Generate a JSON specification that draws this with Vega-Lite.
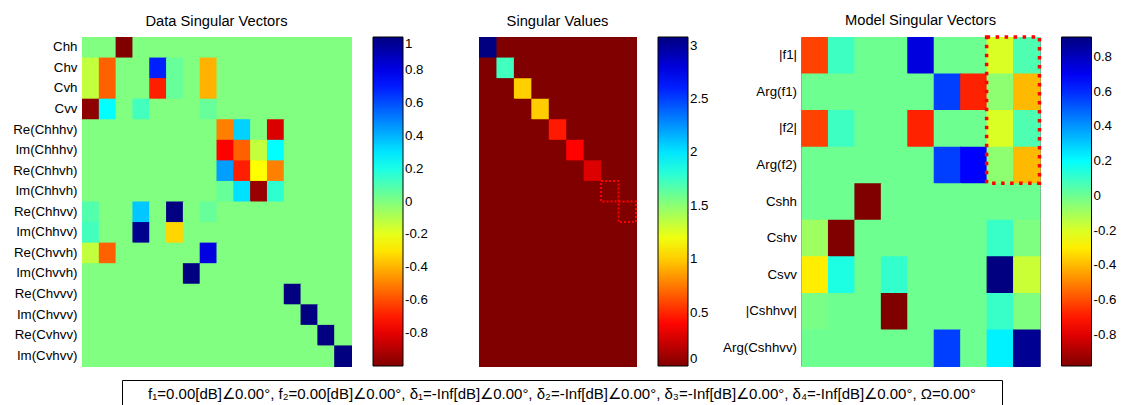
{
  "$schema": "https://vega.github.io/schema/vega-lite/v6.json",
  "background": "white",
  "padding": {"left": 12, "top": 12, "right": 0, "bottom": 0},
  "config": {
    "view": {"stroke": "black", "strokeWidth": 1},
    "font": "Liberation Sans",
    "axis": {"labelFont": "Liberation Sans", "labelFontSize": 13.3, "labelColor": "black", "ticks": false, "domain": false, "labelPadding": 5, "title": null},
    "legend": {"labelFont": "Liberation Sans", "labelFontSize": 13.3, "labelColor": "black", "labelOffset": 5, "offset": 22, "padding": 0, "gradientLength": 329, "gradientThickness": 30, "gradientStrokeColor": "black", "gradientStrokeWidth": 1, "direction": "vertical", "orient": "right"},
    "title": {"font": "Liberation Sans", "fontSize": 14.7, "fontWeight": "normal", "color": "black", "offset": 8, "frame": "group", "anchor": "middle"}
  },
  "datasets": {
    "d1": [
      {"r":"Chh","c":0,"v":0},{"r":"Chh","c":1,"v":0},{"r":"Chh","c":2,"v":-1},{"r":"Chh","c":3,"v":0},{"r":"Chh","c":4,"v":0},{"r":"Chh","c":5,"v":0},{"r":"Chh","c":6,"v":0},{"r":"Chh","c":7,"v":0},{"r":"Chh","c":8,"v":0},{"r":"Chh","c":9,"v":0},{"r":"Chh","c":10,"v":0},{"r":"Chh","c":11,"v":0},{"r":"Chh","c":12,"v":0},{"r":"Chh","c":13,"v":0},{"r":"Chh","c":14,"v":0},{"r":"Chh","c":15,"v":0},
      {"r":"Chv","c":0,"v":-0.13},{"r":"Chv","c":1,"v":-0.56},{"r":"Chv","c":2,"v":0},{"r":"Chv","c":3,"v":0},{"r":"Chv","c":4,"v":0.69},{"r":"Chv","c":5,"v":0.05},{"r":"Chv","c":6,"v":0},{"r":"Chv","c":7,"v":-0.4},{"r":"Chv","c":8,"v":0},{"r":"Chv","c":9,"v":0},{"r":"Chv","c":10,"v":0},{"r":"Chv","c":11,"v":0},{"r":"Chv","c":12,"v":0},{"r":"Chv","c":13,"v":0},{"r":"Chv","c":14,"v":0},{"r":"Chv","c":15,"v":0},
      {"r":"Cvh","c":0,"v":-0.13},{"r":"Cvh","c":1,"v":-0.56},{"r":"Cvh","c":2,"v":0},{"r":"Cvh","c":3,"v":0},{"r":"Cvh","c":4,"v":-0.69},{"r":"Cvh","c":5,"v":0.05},{"r":"Cvh","c":6,"v":0},{"r":"Cvh","c":7,"v":-0.4},{"r":"Cvh","c":8,"v":0},{"r":"Cvh","c":9,"v":0},{"r":"Cvh","c":10,"v":0},{"r":"Cvh","c":11,"v":0},{"r":"Cvh","c":12,"v":0},{"r":"Cvh","c":13,"v":0},{"r":"Cvh","c":14,"v":0},{"r":"Cvh","c":15,"v":0},
      {"r":"Cvv","c":0,"v":-0.97},{"r":"Cvv","c":1,"v":0.25},{"r":"Cvv","c":2,"v":0},{"r":"Cvv","c":3,"v":0.12},{"r":"Cvv","c":4,"v":0},{"r":"Cvv","c":5,"v":0},{"r":"Cvv","c":6,"v":0},{"r":"Cvv","c":7,"v":0.05},{"r":"Cvv","c":8,"v":0},{"r":"Cvv","c":9,"v":0},{"r":"Cvv","c":10,"v":0},{"r":"Cvv","c":11,"v":0},{"r":"Cvv","c":12,"v":0},{"r":"Cvv","c":13,"v":0},{"r":"Cvv","c":14,"v":0},{"r":"Cvv","c":15,"v":0},
      {"r":"Re(Chhhv)","c":0,"v":0},{"r":"Re(Chhhv)","c":1,"v":0},{"r":"Re(Chhhv)","c":2,"v":0},{"r":"Re(Chhhv)","c":3,"v":0},{"r":"Re(Chhhv)","c":4,"v":0},{"r":"Re(Chhhv)","c":5,"v":0},{"r":"Re(Chhhv)","c":6,"v":0},{"r":"Re(Chhhv)","c":7,"v":0},{"r":"Re(Chhhv)","c":8,"v":-0.5},{"r":"Re(Chhhv)","c":9,"v":0.34},{"r":"Re(Chhhv)","c":10,"v":0},{"r":"Re(Chhhv)","c":11,"v":-0.82},{"r":"Re(Chhhv)","c":12,"v":0},{"r":"Re(Chhhv)","c":13,"v":0},{"r":"Re(Chhhv)","c":14,"v":0},{"r":"Re(Chhhv)","c":15,"v":0},
      {"r":"Im(Chhhv)","c":0,"v":0},{"r":"Im(Chhhv)","c":1,"v":0},{"r":"Im(Chhhv)","c":2,"v":0},{"r":"Im(Chhhv)","c":3,"v":0},{"r":"Im(Chhhv)","c":4,"v":0},{"r":"Im(Chhhv)","c":5,"v":0},{"r":"Im(Chhhv)","c":6,"v":0},{"r":"Im(Chhhv)","c":7,"v":0},{"r":"Im(Chhhv)","c":8,"v":-0.75},{"r":"Im(Chhhv)","c":9,"v":-0.56},{"r":"Im(Chhhv)","c":10,"v":-0.13},{"r":"Im(Chhhv)","c":11,"v":0.25},{"r":"Im(Chhhv)","c":12,"v":0},{"r":"Im(Chhhv)","c":13,"v":0},{"r":"Im(Chhhv)","c":14,"v":0},{"r":"Im(Chhhv)","c":15,"v":0},
      {"r":"Re(Chhvh)","c":0,"v":0},{"r":"Re(Chhvh)","c":1,"v":0},{"r":"Re(Chhvh)","c":2,"v":0},{"r":"Re(Chhvh)","c":3,"v":0},{"r":"Re(Chhvh)","c":4,"v":0},{"r":"Re(Chhvh)","c":5,"v":0},{"r":"Re(Chhvh)","c":6,"v":0},{"r":"Re(Chhvh)","c":7,"v":0},{"r":"Re(Chhvh)","c":8,"v":0.44},{"r":"Re(Chhvh)","c":9,"v":-0.69},{"r":"Re(Chhvh)","c":10,"v":-0.25},{"r":"Re(Chhvh)","c":11,"v":-0.5},{"r":"Re(Chhvh)","c":12,"v":0},{"r":"Re(Chhvh)","c":13,"v":0},{"r":"Re(Chhvh)","c":14,"v":0},{"r":"Re(Chhvh)","c":15,"v":0},
      {"r":"Im(Chhvh)","c":0,"v":0},{"r":"Im(Chhvh)","c":1,"v":0},{"r":"Im(Chhvh)","c":2,"v":0},{"r":"Im(Chhvh)","c":3,"v":0},{"r":"Im(Chhvh)","c":4,"v":0},{"r":"Im(Chhvh)","c":5,"v":0},{"r":"Im(Chhvh)","c":6,"v":0},{"r":"Im(Chhvh)","c":7,"v":0},{"r":"Im(Chhvh)","c":8,"v":0.05},{"r":"Im(Chhvh)","c":9,"v":0.31},{"r":"Im(Chhvh)","c":10,"v":-0.95},{"r":"Im(Chhvh)","c":11,"v":0.16},{"r":"Im(Chhvh)","c":12,"v":0},{"r":"Im(Chhvh)","c":13,"v":0},{"r":"Im(Chhvh)","c":14,"v":0},{"r":"Im(Chhvh)","c":15,"v":0},
      {"r":"Re(Chhvv)","c":0,"v":0.09},{"r":"Re(Chhvv)","c":1,"v":0},{"r":"Re(Chhvv)","c":2,"v":0},{"r":"Re(Chhvv)","c":3,"v":0.36},{"r":"Re(Chhvv)","c":4,"v":0},{"r":"Re(Chhvv)","c":5,"v":1},{"r":"Re(Chhvv)","c":6,"v":0},{"r":"Re(Chhvv)","c":7,"v":0.05},{"r":"Re(Chhvv)","c":8,"v":0},{"r":"Re(Chhvv)","c":9,"v":0},{"r":"Re(Chhvv)","c":10,"v":0},{"r":"Re(Chhvv)","c":11,"v":0},{"r":"Re(Chhvv)","c":12,"v":0},{"r":"Re(Chhvv)","c":13,"v":0},{"r":"Re(Chhvv)","c":14,"v":0},{"r":"Re(Chhvv)","c":15,"v":0},
      {"r":"Im(Chhvv)","c":0,"v":0.12},{"r":"Im(Chhvv)","c":1,"v":0},{"r":"Im(Chhvv)","c":2,"v":0},{"r":"Im(Chhvv)","c":3,"v":0.97},{"r":"Im(Chhvv)","c":4,"v":0},{"r":"Im(Chhvv)","c":5,"v":-0.33},{"r":"Im(Chhvv)","c":6,"v":0},{"r":"Im(Chhvv)","c":7,"v":0},{"r":"Im(Chhvv)","c":8,"v":0},{"r":"Im(Chhvv)","c":9,"v":0},{"r":"Im(Chhvv)","c":10,"v":0},{"r":"Im(Chhvv)","c":11,"v":0},{"r":"Im(Chhvv)","c":12,"v":0},{"r":"Im(Chhvv)","c":13,"v":0},{"r":"Im(Chhvv)","c":14,"v":0},{"r":"Im(Chhvv)","c":15,"v":0},
      {"r":"Re(Chvvh)","c":0,"v":-0.13},{"r":"Re(Chvvh)","c":1,"v":-0.56},{"r":"Re(Chvvh)","c":2,"v":0},{"r":"Re(Chvvh)","c":3,"v":0},{"r":"Re(Chvvh)","c":4,"v":0},{"r":"Re(Chvvh)","c":5,"v":0},{"r":"Re(Chvvh)","c":6,"v":0},{"r":"Re(Chvvh)","c":7,"v":0.81},{"r":"Re(Chvvh)","c":8,"v":0},{"r":"Re(Chvvh)","c":9,"v":0},{"r":"Re(Chvvh)","c":10,"v":0},{"r":"Re(Chvvh)","c":11,"v":0},{"r":"Re(Chvvh)","c":12,"v":0},{"r":"Re(Chvvh)","c":13,"v":0},{"r":"Re(Chvvh)","c":14,"v":0},{"r":"Re(Chvvh)","c":15,"v":0},
      {"r":"Im(Chvvh)","c":0,"v":0},{"r":"Im(Chvvh)","c":1,"v":0},{"r":"Im(Chvvh)","c":2,"v":0},{"r":"Im(Chvvh)","c":3,"v":0},{"r":"Im(Chvvh)","c":4,"v":0},{"r":"Im(Chvvh)","c":5,"v":0},{"r":"Im(Chvvh)","c":6,"v":1},{"r":"Im(Chvvh)","c":7,"v":0},{"r":"Im(Chvvh)","c":8,"v":0},{"r":"Im(Chvvh)","c":9,"v":0},{"r":"Im(Chvvh)","c":10,"v":0},{"r":"Im(Chvvh)","c":11,"v":0},{"r":"Im(Chvvh)","c":12,"v":0},{"r":"Im(Chvvh)","c":13,"v":0},{"r":"Im(Chvvh)","c":14,"v":0},{"r":"Im(Chvvh)","c":15,"v":0},
      {"r":"Re(Chvvv)","c":0,"v":0},{"r":"Re(Chvvv)","c":1,"v":0},{"r":"Re(Chvvv)","c":2,"v":0},{"r":"Re(Chvvv)","c":3,"v":0},{"r":"Re(Chvvv)","c":4,"v":0},{"r":"Re(Chvvv)","c":5,"v":0},{"r":"Re(Chvvv)","c":6,"v":0},{"r":"Re(Chvvv)","c":7,"v":0},{"r":"Re(Chvvv)","c":8,"v":0},{"r":"Re(Chvvv)","c":9,"v":0},{"r":"Re(Chvvv)","c":10,"v":0},{"r":"Re(Chvvv)","c":11,"v":0},{"r":"Re(Chvvv)","c":12,"v":1},{"r":"Re(Chvvv)","c":13,"v":0},{"r":"Re(Chvvv)","c":14,"v":0},{"r":"Re(Chvvv)","c":15,"v":0},
      {"r":"Im(Chvvv)","c":0,"v":0},{"r":"Im(Chvvv)","c":1,"v":0},{"r":"Im(Chvvv)","c":2,"v":0},{"r":"Im(Chvvv)","c":3,"v":0},{"r":"Im(Chvvv)","c":4,"v":0},{"r":"Im(Chvvv)","c":5,"v":0},{"r":"Im(Chvvv)","c":6,"v":0},{"r":"Im(Chvvv)","c":7,"v":0},{"r":"Im(Chvvv)","c":8,"v":0},{"r":"Im(Chvvv)","c":9,"v":0},{"r":"Im(Chvvv)","c":10,"v":0},{"r":"Im(Chvvv)","c":11,"v":0},{"r":"Im(Chvvv)","c":12,"v":0},{"r":"Im(Chvvv)","c":13,"v":1},{"r":"Im(Chvvv)","c":14,"v":0},{"r":"Im(Chvvv)","c":15,"v":0},
      {"r":"Re(Cvhvv)","c":0,"v":0},{"r":"Re(Cvhvv)","c":1,"v":0},{"r":"Re(Cvhvv)","c":2,"v":0},{"r":"Re(Cvhvv)","c":3,"v":0},{"r":"Re(Cvhvv)","c":4,"v":0},{"r":"Re(Cvhvv)","c":5,"v":0},{"r":"Re(Cvhvv)","c":6,"v":0},{"r":"Re(Cvhvv)","c":7,"v":0},{"r":"Re(Cvhvv)","c":8,"v":0},{"r":"Re(Cvhvv)","c":9,"v":0},{"r":"Re(Cvhvv)","c":10,"v":0},{"r":"Re(Cvhvv)","c":11,"v":0},{"r":"Re(Cvhvv)","c":12,"v":0},{"r":"Re(Cvhvv)","c":13,"v":0},{"r":"Re(Cvhvv)","c":14,"v":1},{"r":"Re(Cvhvv)","c":15,"v":0},
      {"r":"Im(Cvhvv)","c":0,"v":0},{"r":"Im(Cvhvv)","c":1,"v":0},{"r":"Im(Cvhvv)","c":2,"v":0},{"r":"Im(Cvhvv)","c":3,"v":0},{"r":"Im(Cvhvv)","c":4,"v":0},{"r":"Im(Cvhvv)","c":5,"v":0},{"r":"Im(Cvhvv)","c":6,"v":0},{"r":"Im(Cvhvv)","c":7,"v":0},{"r":"Im(Cvhvv)","c":8,"v":0},{"r":"Im(Cvhvv)","c":9,"v":0},{"r":"Im(Cvhvv)","c":10,"v":0},{"r":"Im(Cvhvv)","c":11,"v":0},{"r":"Im(Cvhvv)","c":12,"v":0},{"r":"Im(Cvhvv)","c":13,"v":0},{"r":"Im(Cvhvv)","c":14,"v":0},{"r":"Im(Cvhvv)","c":15,"v":1}
    ],
    "d2": [
      {"r":0,"c":0,"v":3.08},{"r":0,"c":1,"v":0},{"r":0,"c":2,"v":0},{"r":0,"c":3,"v":0},{"r":0,"c":4,"v":0},{"r":0,"c":5,"v":0},{"r":0,"c":6,"v":0},{"r":0,"c":7,"v":0},{"r":0,"c":8,"v":0},
      {"r":1,"c":0,"v":0},{"r":1,"c":1,"v":1.73},{"r":1,"c":2,"v":0},{"r":1,"c":3,"v":0},{"r":1,"c":4,"v":0},{"r":1,"c":5,"v":0},{"r":1,"c":6,"v":0},{"r":1,"c":7,"v":0},{"r":1,"c":8,"v":0},
      {"r":2,"c":0,"v":0},{"r":2,"c":1,"v":0},{"r":2,"c":2,"v":1.01},{"r":2,"c":3,"v":0},{"r":2,"c":4,"v":0},{"r":2,"c":5,"v":0},{"r":2,"c":6,"v":0},{"r":2,"c":7,"v":0},{"r":2,"c":8,"v":0},
      {"r":3,"c":0,"v":0},{"r":3,"c":1,"v":0},{"r":3,"c":2,"v":0},{"r":3,"c":3,"v":1.0},{"r":3,"c":4,"v":0},{"r":3,"c":5,"v":0},{"r":3,"c":6,"v":0},{"r":3,"c":7,"v":0},{"r":3,"c":8,"v":0},
      {"r":4,"c":0,"v":0},{"r":4,"c":1,"v":0},{"r":4,"c":2,"v":0},{"r":4,"c":3,"v":0},{"r":4,"c":4,"v":0.46},{"r":4,"c":5,"v":0},{"r":4,"c":6,"v":0},{"r":4,"c":7,"v":0},{"r":4,"c":8,"v":0},
      {"r":5,"c":0,"v":0},{"r":5,"c":1,"v":0},{"r":5,"c":2,"v":0},{"r":5,"c":3,"v":0},{"r":5,"c":4,"v":0},{"r":5,"c":5,"v":0.39},{"r":5,"c":6,"v":0},{"r":5,"c":7,"v":0},{"r":5,"c":8,"v":0},
      {"r":6,"c":0,"v":0},{"r":6,"c":1,"v":0},{"r":6,"c":2,"v":0},{"r":6,"c":3,"v":0},{"r":6,"c":4,"v":0},{"r":6,"c":5,"v":0},{"r":6,"c":6,"v":0.28},{"r":6,"c":7,"v":0},{"r":6,"c":8,"v":0},
      {"r":7,"c":0,"v":0},{"r":7,"c":1,"v":0},{"r":7,"c":2,"v":0},{"r":7,"c":3,"v":0},{"r":7,"c":4,"v":0},{"r":7,"c":5,"v":0},{"r":7,"c":6,"v":0},{"r":7,"c":7,"v":0},{"r":7,"c":8,"v":0},
      {"r":8,"c":0,"v":0},{"r":8,"c":1,"v":0},{"r":8,"c":2,"v":0},{"r":8,"c":3,"v":0},{"r":8,"c":4,"v":0},{"r":8,"c":5,"v":0},{"r":8,"c":6,"v":0},{"r":8,"c":7,"v":0},{"r":8,"c":8,"v":0},
      {"r":9,"c":0,"v":0},{"r":9,"c":1,"v":0},{"r":9,"c":2,"v":0},{"r":9,"c":3,"v":0},{"r":9,"c":4,"v":0},{"r":9,"c":5,"v":0},{"r":9,"c":6,"v":0},{"r":9,"c":7,"v":0},{"r":9,"c":8,"v":0},
      {"r":10,"c":0,"v":0},{"r":10,"c":1,"v":0},{"r":10,"c":2,"v":0},{"r":10,"c":3,"v":0},{"r":10,"c":4,"v":0},{"r":10,"c":5,"v":0},{"r":10,"c":6,"v":0},{"r":10,"c":7,"v":0},{"r":10,"c":8,"v":0},
      {"r":11,"c":0,"v":0},{"r":11,"c":1,"v":0},{"r":11,"c":2,"v":0},{"r":11,"c":3,"v":0},{"r":11,"c":4,"v":0},{"r":11,"c":5,"v":0},{"r":11,"c":6,"v":0},{"r":11,"c":7,"v":0},{"r":11,"c":8,"v":0},
      {"r":12,"c":0,"v":0},{"r":12,"c":1,"v":0},{"r":12,"c":2,"v":0},{"r":12,"c":3,"v":0},{"r":12,"c":4,"v":0},{"r":12,"c":5,"v":0},{"r":12,"c":6,"v":0},{"r":12,"c":7,"v":0},{"r":12,"c":8,"v":0},
      {"r":13,"c":0,"v":0},{"r":13,"c":1,"v":0},{"r":13,"c":2,"v":0},{"r":13,"c":3,"v":0},{"r":13,"c":4,"v":0},{"r":13,"c":5,"v":0},{"r":13,"c":6,"v":0},{"r":13,"c":7,"v":0},{"r":13,"c":8,"v":0},
      {"r":14,"c":0,"v":0},{"r":14,"c":1,"v":0},{"r":14,"c":2,"v":0},{"r":14,"c":3,"v":0},{"r":14,"c":4,"v":0},{"r":14,"c":5,"v":0},{"r":14,"c":6,"v":0},{"r":14,"c":7,"v":0},{"r":14,"c":8,"v":0},
      {"r":15,"c":0,"v":0},{"r":15,"c":1,"v":0},{"r":15,"c":2,"v":0},{"r":15,"c":3,"v":0},{"r":15,"c":4,"v":0},{"r":15,"c":5,"v":0},{"r":15,"c":6,"v":0},{"r":15,"c":7,"v":0},{"r":15,"c":8,"v":0}
    ],
    "b2": [{"r":7,"c":7},{"r":8,"c":8}],
    "d3": [
      {"r":"|f1|","c":0,"v":-0.62},{"r":"|f1|","c":1,"v":0.09},{"r":"|f1|","c":2,"v":0},{"r":"|f1|","c":3,"v":0},{"r":"|f1|","c":4,"v":0.74},{"r":"|f1|","c":5,"v":0},{"r":"|f1|","c":6,"v":0},{"r":"|f1|","c":7,"v":-0.2},{"r":"|f1|","c":8,"v":0.06},
      {"r":"Arg(f1)","c":0,"v":0},{"r":"Arg(f1)","c":1,"v":0},{"r":"Arg(f1)","c":2,"v":0},{"r":"Arg(f1)","c":3,"v":0},{"r":"Arg(f1)","c":4,"v":0},{"r":"Arg(f1)","c":5,"v":0.56},{"r":"Arg(f1)","c":6,"v":-0.68},{"r":"Arg(f1)","c":7,"v":-0.06},{"r":"Arg(f1)","c":8,"v":-0.4},
      {"r":"|f2|","c":0,"v":-0.62},{"r":"|f2|","c":1,"v":0.09},{"r":"|f2|","c":2,"v":0},{"r":"|f2|","c":3,"v":0},{"r":"|f2|","c":4,"v":-0.68},{"r":"|f2|","c":5,"v":0},{"r":"|f2|","c":6,"v":0},{"r":"|f2|","c":7,"v":-0.2},{"r":"|f2|","c":8,"v":0.06},
      {"r":"Arg(f2)","c":0,"v":0},{"r":"Arg(f2)","c":1,"v":0},{"r":"Arg(f2)","c":2,"v":0},{"r":"Arg(f2)","c":3,"v":0},{"r":"Arg(f2)","c":4,"v":0},{"r":"Arg(f2)","c":5,"v":0.56},{"r":"Arg(f2)","c":6,"v":0.68},{"r":"Arg(f2)","c":7,"v":-0.06},{"r":"Arg(f2)","c":8,"v":-0.4},
      {"r":"Cshh","c":0,"v":0},{"r":"Cshh","c":1,"v":0},{"r":"Cshh","c":2,"v":-0.98},{"r":"Cshh","c":3,"v":0},{"r":"Cshh","c":4,"v":0},{"r":"Cshh","c":5,"v":0},{"r":"Cshh","c":6,"v":0},{"r":"Cshh","c":7,"v":0},{"r":"Cshh","c":8,"v":0},
      {"r":"Cshv","c":0,"v":-0.09},{"r":"Cshv","c":1,"v":-0.98},{"r":"Cshv","c":2,"v":0},{"r":"Cshv","c":3,"v":0},{"r":"Cshv","c":4,"v":0},{"r":"Cshv","c":5,"v":0},{"r":"Cshv","c":6,"v":0},{"r":"Cshv","c":7,"v":0.1},{"r":"Cshv","c":8,"v":-0.03},
      {"r":"Csvv","c":0,"v":-0.3},{"r":"Csvv","c":1,"v":0.15},{"r":"Csvv","c":2,"v":0},{"r":"Csvv","c":3,"v":0.11},{"r":"Csvv","c":4,"v":0},{"r":"Csvv","c":5,"v":0},{"r":"Csvv","c":6,"v":0},{"r":"Csvv","c":7,"v":0.915},{"r":"Csvv","c":8,"v":-0.17},
      {"r":"|Cshhvv|","c":0,"v":-0.02},{"r":"|Cshhvv|","c":1,"v":0},{"r":"|Cshhvv|","c":2,"v":0},{"r":"|Cshhvv|","c":3,"v":-0.98},{"r":"|Cshhvv|","c":4,"v":0},{"r":"|Cshhvv|","c":5,"v":0},{"r":"|Cshhvv|","c":6,"v":0},{"r":"|Cshhvv|","c":7,"v":0.1},{"r":"|Cshhvv|","c":8,"v":-0.03},
      {"r":"Arg(Cshhvv)","c":0,"v":0},{"r":"Arg(Cshhvv)","c":1,"v":0},{"r":"Arg(Cshhvv)","c":2,"v":0},{"r":"Arg(Cshhvv)","c":3,"v":0},{"r":"Arg(Cshhvv)","c":4,"v":0},{"r":"Arg(Cshhvv)","c":5,"v":0.56},{"r":"Arg(Cshhvv)","c":6,"v":0},{"r":"Arg(Cshhvv)","c":7,"v":0.23},{"r":"Arg(Cshhvv)","c":8,"v":0.88}
    ],
    "b3": [{"c0":7,"c1":8,"r0":"|f1|","r1":"Arg(f2)"}],
    "note": [{"label":"f₁=0.00[dB]∠0.00°,  f₂=0.00[dB]∠0.00°,  δ₁=-Inf[dB]∠0.00°,  δ₂=-Inf[dB]∠0.00°,  δ₃=-Inf[dB]∠0.00°,  δ₄=-Inf[dB]∠0.00°,  Ω=0.00°"}],
    "blank": [{"label":""}]
  },
  "vconcat": [
    {
      "hconcat": [
        {
          "hconcat": [
            {
              "width": 269, "height": 329,
              "title": "Data Singular Vectors",
              "data": {"name": "d1"},
              "mark": {"type": "rect", "x2Offset": 1, "y2Offset": 1},
              "encoding": {
                "x": {"field": "c", "type": "ordinal", "bandPosition": 0, "axis": null, "scale": {"domain": [0,1,2,3,4,5,6,7,8,9,10,11,12,13,14,15], "paddingInner": 0, "paddingOuter": 0}},
                "x2": {"field": "c", "bandPosition": 1},
                "y": {"field": "r", "type": "nominal", "bandPosition": 0, "scale": {"domain": ["Chh","Chv","Cvh","Cvv","Re(Chhhv)","Im(Chhhv)","Re(Chhvh)","Im(Chhvh)","Re(Chhvv)","Im(Chhvv)","Re(Chvvh)","Im(Chvvh)","Re(Chvvv)","Im(Chvvv)","Re(Cvhvv)","Im(Cvhvv)"], "paddingInner": 0, "paddingOuter": 0}, "axis": {"title": null}},
                "y2": {"field": "r", "bandPosition": 1},
                "color": {"field": "v", "type": "quantitative",
                  "scale": {"type": "linear", "domain": [-1,-0.75,-0.25,0.25,0.75,1], "range": ["#800000","#ff0000","#ffff00","#00ffff","#0000ff","#000080"], "interpolate": "rgb", "nice": false, "zero": false},
                  "legend": {"type": "gradient", "title": null, "values": [-0.8,-0.6,-0.4,-0.2,0,0.2,0.4,0.6,0.8,1], "labelExpr": "'' + datum.value", "gradientLength": 329, "gradientThickness": 30}}
              }
            },
            {
              "width": 157, "height": 329,
              "title": "Singular Values",
              "layer": [
                {
                  "data": {"name": "d2"},
                  "mark": {"type": "rect", "x2Offset": 1, "y2Offset": 1},
                  "encoding": {
                    "x": {"field": "c", "type": "ordinal", "bandPosition": 0, "axis": null, "scale": {"domain": [0,1,2,3,4,5,6,7,8], "paddingInner": 0, "paddingOuter": 0}},
                    "x2": {"field": "c", "bandPosition": 1},
                    "y": {"field": "r", "type": "ordinal", "bandPosition": 0, "axis": null, "scale": {"domain": [0,1,2,3,4,5,6,7,8,9,10,11,12,13,14,15], "paddingInner": 0, "paddingOuter": 0}},
                    "y2": {"field": "r", "bandPosition": 1},
                    "color": {"field": "v", "type": "quantitative",
                      "scale": {"type": "linear", "domain": [0,0.385,1.155,1.925,2.695,3.08], "range": ["#800000","#ff0000","#ffff00","#00ffff","#0000ff","#000080"], "interpolate": "rgb", "nice": false, "zero": false},
                      "legend": {"type": "gradient", "title": null, "values": [0,0.5,1,1.5,2,2.5,3], "labelExpr": "'' + datum.value", "gradientLength": 329, "gradientThickness": 30}}
                  }
                },
                {
                  "data": {"name": "b2"},
                  "mark": {"type": "rect", "filled": false, "stroke": "#ff0000", "strokeWidth": 2, "strokeDash": [2, 2]},
                  "encoding": {
                    "x": {"field": "c", "type": "ordinal", "axis": null, "scale": {"domain": [0,1,2,3,4,5,6,7,8], "paddingInner": 0, "paddingOuter": 0}},
                    "y": {"field": "r", "type": "ordinal", "axis": null, "scale": {"domain": [0,1,2,3,4,5,6,7,8,9,10,11,12,13,14,15], "paddingInner": 0, "paddingOuter": 0}}
                  }
                }
              ]
            }
          ],
          "spacing": 49,
          "resolve": {"scale": {"color": "independent"}, "legend": {"color": "independent"}}
        },
        {
          "width": 238, "height": 329,
          "title": "Model Singular Vectors",
          "layer": [
            {
              "data": {"name": "d3"},
              "mark": {"type": "rect", "x2Offset": 1, "y2Offset": 1},
              "encoding": {
                "x": {"field": "c", "type": "ordinal", "bandPosition": 0, "axis": null, "scale": {"domain": [0,1,2,3,4,5,6,7,8], "paddingInner": 0, "paddingOuter": 0}},
                "x2": {"field": "c", "bandPosition": 1},
                "y": {"field": "r", "type": "nominal", "bandPosition": 0, "scale": {"domain": ["|f1|","Arg(f1)","|f2|","Arg(f2)","Cshh","Cshv","Csvv","|Cshhvv|","Arg(Cshhvv)"], "paddingInner": 0, "paddingOuter": 0}, "axis": {"title": null}},
                "y2": {"field": "r", "bandPosition": 1},
                "color": {"field": "v", "type": "quantitative",
                  "scale": {"type": "linear", "domain": [-0.98,-0.743,-0.269,0.204,0.678,0.915], "range": ["#800000","#ff0000","#ffff00","#00ffff","#0000ff","#000080"], "interpolate": "rgb", "nice": false, "zero": false},
                  "legend": {"type": "gradient", "title": null, "values": [-0.8,-0.6,-0.4,-0.2,0,0.2,0.4,0.6,0.8], "labelExpr": "'' + datum.value", "gradientLength": 329, "gradientThickness": 30}}
              }
            },
            {
              "data": {"name": "b3"},
              "mark": {"type": "rect", "filled": false, "stroke": "#ff0000", "strokeWidth": 3.5, "strokeDash": [3.5, 5.5]},
              "encoding": {
                "x": {"field": "c0", "type": "ordinal", "bandPosition": 0, "axis": null, "scale": {"domain": [0,1,2,3,4,5,6,7,8], "paddingInner": 0, "paddingOuter": 0}},
                "x2": {"field": "c1", "bandPosition": 1},
                "y": {"field": "r0", "type": "nominal", "bandPosition": 0, "scale": {"domain": ["|f1|","Arg(f1)","|f2|","Arg(f2)","Cshh","Cshv","Csvv","|Cshhvv|","Arg(Cshhvv)"], "paddingInner": 0, "paddingOuter": 0}, "axis": {"title": null}},
                "y2": {"field": "r1", "bandPosition": 1}
              }
            }
          ]
        }
      ],
      "spacing": 11.5,
      "resolve": {"scale": {"color": "independent"}, "legend": {"color": "independent"}}
    },
    {
      "hconcat": [
        {
          "width": 39, "height": 28,
          "view": {"stroke": null},
          "data": {"name": "blank"},
          "mark": {"type": "text"},
          "encoding": {"text": {"field": "label", "type": "nominal"}}
        },
        {
          "width": 880, "height": 28,
          "view": {"stroke": "black", "strokeWidth": 1, "fill": "white"},
          "data": {"name": "note"},
          "mark": {"type": "text", "fontSize": 15, "font": "Liberation Sans", "color": "black"},
          "encoding": {"text": {"field": "label", "type": "nominal"}}
        }
      ],
      "spacing": 0
    }
  ],
  "spacing": 11,
  "resolve": {"scale": {"color": "independent"}, "legend": {"color": "independent"}}
}
